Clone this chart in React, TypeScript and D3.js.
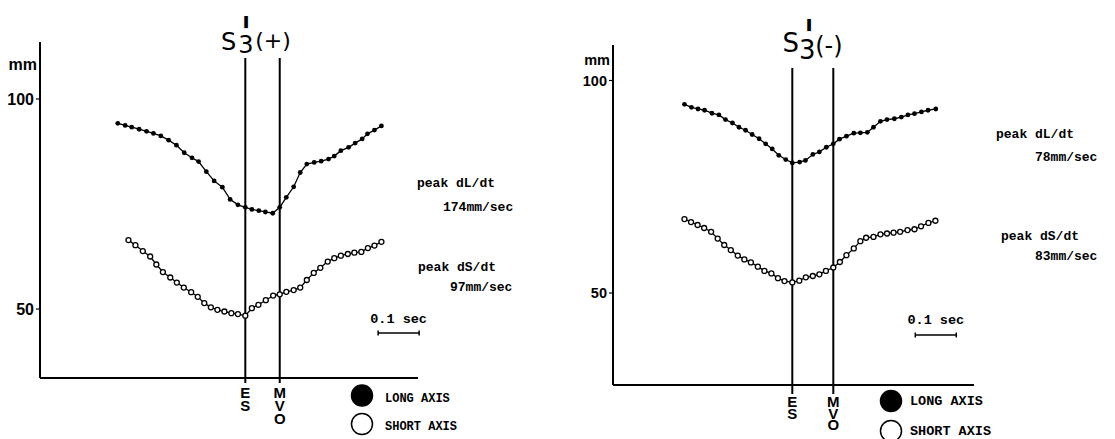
import React, { useRef, useEffect } from "react";
import * as d3 from "d3";

// time in ms from end-systole (ES), dimension in mm

// S3'(+)
const plusLongTime = [-311, -293, -277, -259, -241, -224, -206, -187, -168, -149, -130, -114, -95, -76, -56, -37, -18, 0, 16, 33, 49, 67, 84, 100, 118, 134, 150, 168, 185, 203, 217, 233, 252, 268, 285, 298, 315, 332];
const plusLongMm = [94.2, 93.7, 93.3, 92.8, 92.3, 91.8, 91.2, 90.2, 89.0, 87.2, 86.0, 85.1, 82.7, 80.5, 79.0, 76.1, 74.8, 74.2, 73.7, 73.4, 73.1, 72.8, 74.2, 76.6, 79.1, 82.5, 84.5, 84.9, 85.2, 85.7, 86.4, 87.7, 88.5, 89.5, 90.5, 91.7, 92.6, 93.6];
const plusShortTime = [-285, -268, -250, -232, -217, -201, -183, -167, -150, -132, -116, -100, -84, -68, -51, -34, -18, 0, 16, 32, 50, 68, 84, 100, 118, 134, 150, 167, 183, 201, 217, 233, 250, 266, 283, 299, 315, 332];
const plusShortMm = [66.4, 65.2, 63.8, 62.5, 60.6, 58.8, 57.5, 56.3, 55.1, 54.0, 52.9, 51.4, 50.4, 49.8, 49.4, 49.0, 48.8, 48.4, 50.2, 51.0, 52.1, 53.2, 53.5, 54.1, 54.5, 55.1, 56.9, 58.6, 59.8, 61.3, 62.1, 62.7, 63.1, 63.4, 63.6, 64.5, 65.1, 66.0];
const plusEvents = [0, 84];
const plusPeaks = ["peak dL/dt", "174mm/sec", "peak dS/dt", "97mm/sec"];

// S3'(-)
const minusLongTime = [-263, -246, -230, -214, -196, -179, -163, -146, -130, -114, -98, -81, -65, -49, -33, -16, 0, 18, 32, 50, 66, 83, 100, 115, 132, 150, 166, 183, 198, 215, 231, 249, 266, 282, 298, 315, 331, 350];
const minusLongMm = [94.4, 93.7, 93.3, 93.0, 92.3, 91.9, 90.8, 90.0, 89.0, 88.3, 87.3, 86.3, 85.1, 83.9, 82.4, 81.4, 80.6, 80.8, 81.2, 82.6, 83.2, 84.3, 85.1, 86.2, 86.9, 87.6, 87.7, 87.8, 89.0, 90.4, 90.8, 91.0, 91.4, 91.9, 92.2, 92.6, 93.0, 93.3];
const minusShortTime = [-263, -247, -231, -215, -198, -182, -166, -150, -133, -117, -101, -84, -68, -51, -35, -19, 0, 17, 33, 50, 66, 82, 100, 116, 132, 150, 166, 180, 198, 215, 231, 247, 263, 281, 298, 314, 332, 349];
const minusShortMm = [67.4, 66.7, 66.0, 65.3, 64.4, 62.8, 61.3, 60.1, 58.8, 57.9, 57.2, 56.2, 55.2, 54.6, 53.5, 52.8, 52.5, 52.9, 53.7, 54.0, 54.4, 55.2, 56.0, 57.3, 58.9, 60.5, 62.2, 63.0, 63.2, 63.8, 64.0, 64.2, 64.4, 64.8, 65.0, 65.7, 66.5, 67.0];
const minusEvents = [0, 100];
const minusPeaks = ["peak dL/dt", "78mm/sec", "peak dS/dt", "83mm/sec"];

const yTicks = [50, 100];
const eventLabels = ["ES", "MVO"];
const legendLabels = ["LONG AXIS", "SHORT AXIS"];
const scaleBarMs = 100;

const mono = "'Liberation Mono', monospace";
const sans = "'Liberation Sans', Arial, sans-serif";

const panels = [
  {
    sign: "(+)",
    longT: plusLongTime, longY: plusLongMm, shortT: plusShortTime, shortY: plusShortMm,
    events: plusEvents, peaks: plusPeaks,
    x0: 40, x1: 418, yTop: 42, yBottom: 378, esX: 245.3, y50: 309, y100: 99,
    tickFont: 16, mmY: 70,
    evTop: 58, evBottom: 383, letterY: 398, letterStep: 12.8,
    peakPos: [[417, 187], [443, 211], [418, 271], [450, 291]],
    barStart: 324, barY: 333, barTextY: 323,
    legendCx: 362, legendCy: [395.5, 424], legendTx: 385, legendTy: [401.5, 430], legendFont: 12,
    // start x, S baseline, subscript drop, prime dx/dy, sign dx/dy, size
    title: { x: 221, y: 50, sub: 3, subDx: 2, primeDx: -13.5, primeDy: -4.5, signDx: 3, signDy: -2, size: 24, signSize: 22 },
  },
  {
    sign: "(-)",
    longT: minusLongTime, longY: minusLongMm, shortT: minusShortTime, shortY: minusShortMm,
    events: minusEvents, peaks: minusPeaks,
    x0: 613, x1: 974, yTop: 45, yBottom: 385, esX: 792.3, y50: 293, y100: 80.5,
    tickFont: 14.5, mmY: 65,
    evTop: 68, evBottom: 394, letterY: 407, letterStep: 11.5,
    peakPos: [[996, 138], [1035, 161], [1001, 240], [1035, 260]],
    barStart: 300, barY: 335, barTextY: 324,
    legendCx: 891, legendCy: [401, 431], legendTx: 910, legendTy: [404.5, 435], legendFont: 13.5,
    title: { x: 782.5, y: 52, sub: 7, subDx: 0, primeDx: -12.5, primeDy: -3.5, signDx: 0, signDy: 2, size: 26, signSize: 24 },
  },
];

const drawPanel = (svg, p) => {
  const g = svg.append("g");
  const x = d3.scaleLinear().domain([0, scaleBarMs]).range([p.esX, p.esX + 41]);
  const y = d3.scaleLinear().domain([50, 100]).range([p.y50, p.y100]);

  // axes
  g.append("line")
    .attr("x1", p.x0).attr("x2", p.x0).attr("y1", p.yTop).attr("y2", p.yBottom)
    .attr("stroke", "#000").attr("stroke-width", 2);
  g.append("line")
    .attr("x1", p.x0).attr("x2", p.x1).attr("y1", p.yBottom).attr("y2", p.yBottom)
    .attr("stroke", "#000").attr("stroke-width", 2);

  yTicks.forEach((v) => {
    g.append("line")
      .attr("x1", p.x0 - 4).attr("x2", p.x0).attr("y1", y(v)).attr("y2", y(v))
      .attr("stroke", "#000").attr("stroke-width", 1.2);
    g.append("text")
      .attr("x", p.x0 - 6).attr("y", y(v)).attr("dy", "0.36em")
      .attr("text-anchor", "end").attr("font-family", sans).attr("font-weight", "bold")
      .attr("font-size", p.tickFont).text(v);
  });
  g.append("text")
    .attr("x", p.x0 - 3).attr("y", p.mmY)
    .attr("text-anchor", "end").attr("font-family", sans).attr("font-weight", "bold")
    .attr("font-size", p.tickFont).text("mm");

  // ES / MVO markers, labels written vertically
  p.events.forEach((t, i) => {
    g.append("line")
      .attr("x1", x(t)).attr("x2", x(t)).attr("y1", p.evTop).attr("y2", p.evBottom)
      .attr("stroke", "#000").attr("stroke-width", 2);
    const lbl = g.append("text")
      .attr("y", p.letterY)
      .attr("text-anchor", "middle").attr("font-family", sans).attr("font-weight", "bold")
      .attr("font-size", 15);
    eventLabels[i].split("").forEach((ch, j) => {
      lbl.append("tspan").attr("x", x(t)).attr("dy", j === 0 ? 0 : p.letterStep).text(ch);
    });
  });

  // series
  const line = d3.line().x((d) => x(d[0])).y((d) => y(d[1]));
  const longPts = p.longT.map((t, i) => [t, p.longY[i]]);
  const shortPts = p.shortT.map((t, i) => [t, p.shortY[i]]);

  g.append("path").datum(longPts).attr("d", line)
    .attr("fill", "none").attr("stroke", "#000").attr("stroke-width", 1.3);
  g.append("path").datum(shortPts).attr("d", line)
    .attr("fill", "none").attr("stroke", "#000").attr("stroke-width", 1.3);

  g.append("g").selectAll("circle").data(longPts).join("circle")
    .attr("cx", (d) => x(d[0])).attr("cy", (d) => y(d[1])).attr("r", 2.4)
    .attr("fill", "#000");
  g.append("g").selectAll("circle").data(shortPts).join("circle")
    .attr("cx", (d) => x(d[0])).attr("cy", (d) => y(d[1])).attr("r", 2.5)
    .attr("fill", "#fff").attr("stroke", "#000").attr("stroke-width", 1.3);

  // peak velocities
  p.peaks.forEach((txt, i) => {
    g.append("text")
      .attr("x", p.peakPos[i][0]).attr("y", p.peakPos[i][1])
      .attr("font-family", mono).attr("font-weight", "bold").attr("font-size", 13)
      .text(txt);
  });

  // 0.1 sec scale bar
  const bx0 = x(p.barStart);
  const bx1 = x(p.barStart + scaleBarMs);
  g.append("line").attr("x1", bx0).attr("x2", bx1).attr("y1", p.barY).attr("y2", p.barY)
    .attr("stroke", "#000").attr("stroke-width", 1.5);
  [bx0, bx1].forEach((bx) => {
    g.append("line").attr("x1", bx).attr("x2", bx).attr("y1", p.barY - 2.5).attr("y2", p.barY + 2.5)
      .attr("stroke", "#000").attr("stroke-width", 1.5);
  });
  g.append("text")
    .attr("x", (bx0 + bx1) / 2).attr("y", p.barTextY).attr("text-anchor", "middle")
    .attr("font-family", mono).attr("font-weight", "bold").attr("font-size", 13.5)
    .text("0.1 sec");

  // legend
  legendLabels.forEach((lbl, i) => {
    g.append("circle")
      .attr("cx", p.legendCx).attr("cy", p.legendCy[i]).attr("r", 10.5)
      .attr("fill", i === 0 ? "#000" : "#fff").attr("stroke", "#000").attr("stroke-width", 1.5);
    g.append("text")
      .attr("x", p.legendTx).attr("y", p.legendTy[i])
      .attr("font-family", mono).attr("font-weight", "bold").attr("font-size", p.legendFont)
      .text(lbl);
  });

  // title S3'(+/-) as one text element
  const tt = p.title;
  const title = g.append("text")
    .attr("x", tt.x).attr("y", tt.y)
    .attr("font-family", "'DejaVu Sans', sans-serif").attr("font-size", tt.size);
  title.append("tspan").text("S");
  title.append("tspan").attr("dx", tt.subDx).attr("dy", tt.sub).text("3");
  title.append("tspan").attr("dx", tt.primeDx).attr("dy", tt.primeDy - tt.sub + 3)
    .attr("font-size", 44).text("'");
  title.append("tspan").attr("dx", tt.signDx).attr("dy", tt.signDy - tt.primeDy - 3)
    .attr("font-size", tt.signSize).text(p.sign);
};

const App = () => {
  const svgRef = useRef();

  useEffect(() => {
    const svg = d3.select(svgRef.current);
    svg.selectAll("*").remove();
    panels.forEach((p) => drawPanel(svg, p));
  }, []);

  return (
    <svg
      ref={svgRef}
      width="1115"
      height="439"
      style={{ position: "absolute", left: 0, top: 0, background: "#fff" }}
    ></svg>
  );
};

export default App;
